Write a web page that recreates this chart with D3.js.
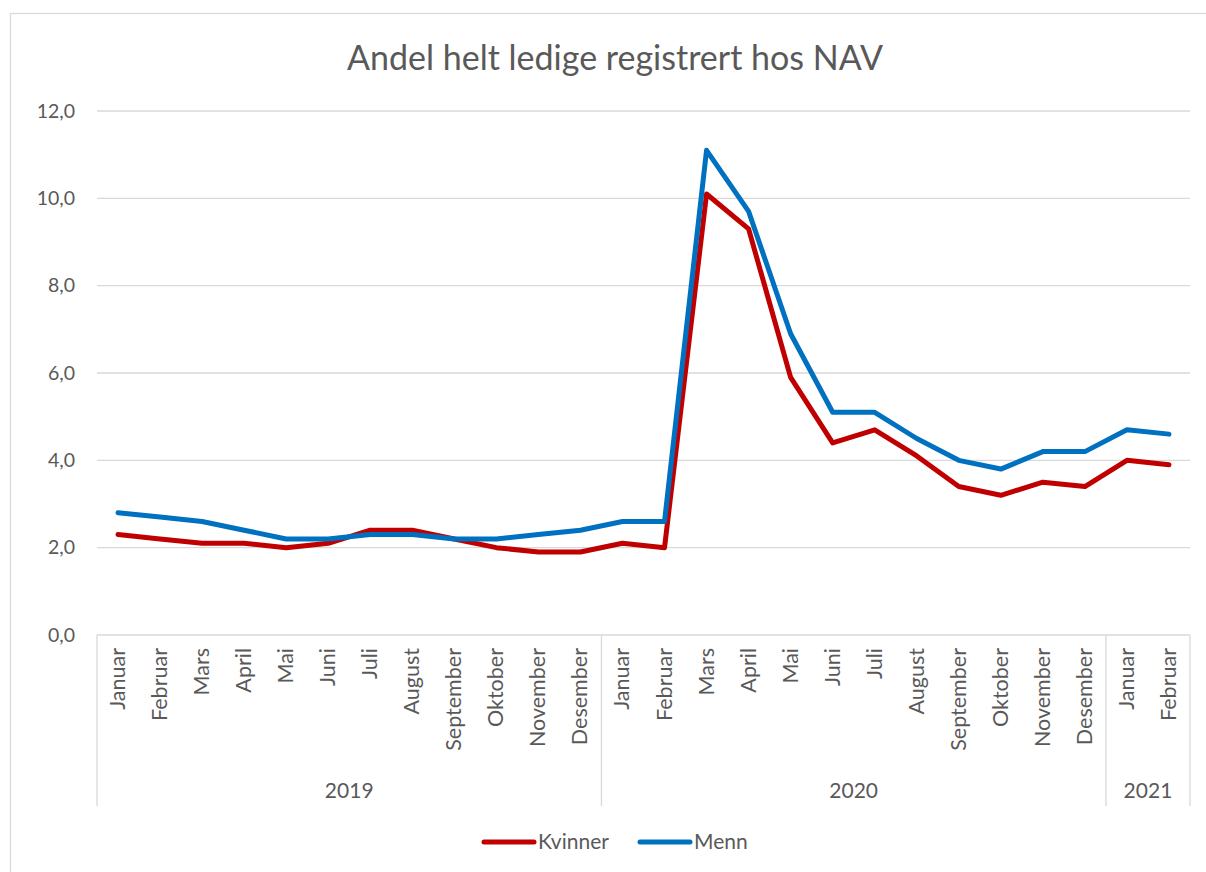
<!DOCTYPE html>
<html lang="no">

<head>
    <meta charset="UTF-8">
    <title>Andel helt ledige registrert hos NAV</title>
    <script src="https://d3js.org/d3.v7.min.js"></script>
    <style>
        body {
            margin: 0;
            background-color: white;
        }

        svg text {
            font-family: Lato, 'Open Sans', sans-serif;
            fill: #595959;
        }

        .grid line {
            stroke: #d9d9d9;
            stroke-width: 1.3px;
        }

        .series {
            fill: none;
            stroke-width: 5px;
            stroke-linejoin: round;
            stroke-linecap: round;
        }
    </style>
</head>

<body>
    <svg id="chart" width="1206" height="872"></svg>

    <script>
        const months = ['Januar', 'Februar', 'Mars', 'April', 'Mai', 'Juni', 'Juli',
            'August', 'September', 'Oktober', 'November', 'Desember'];
        const years = [
            { year: '2019', count: 12 },
            { year: '2020', count: 12 },
            { year: '2021', count: 2 }
        ];
        const kvinner = [2.3, 2.2, 2.1, 2.1, 2.0, 2.1, 2.4, 2.4, 2.2, 2.0, 1.9, 1.9,
            2.1, 2.0, 10.1, 9.3, 5.9, 4.4, 4.7, 4.1, 3.4, 3.2, 3.5, 3.4,
            4.0, 3.9];
        const menn = [2.8, 2.7, 2.6, 2.4, 2.2, 2.2, 2.3, 2.3, 2.2, 2.2, 2.3, 2.4,
            2.6, 2.6, 11.1, 9.7, 6.9, 5.1, 5.1, 4.5, 4.0, 3.8, 4.2, 4.2,
            4.7, 4.6];
        const yTicks = [0, 2, 4, 6, 8, 10, 12];

        // one entry per month along the axis
        const categories = [];
        years.forEach(y => {
            for (let i = 0; i < y.count; i++) {
                categories.push({ key: y.year + '-' + i, month: months[i], year: y.year });
            }
        });

        const series = [
            { name: 'Kvinner', color: '#C00000', values: kvinner },
            { name: 'Menn', color: '#0070C0', values: menn }
        ];

        const width = 1206;
        const height = 872;
        const margin = { top: 111, right: 16, bottom: 237, left: 97 };

        const svg = d3.select('#chart');

        // outer chart border
        svg.append('rect')
            .attr('x', 10.5)
            .attr('y', 13.5)
            .attr('width', width)
            .attr('height', height)
            .attr('fill', 'white')
            .attr('stroke', '#d9d9d9')
            .attr('stroke-width', 1.3);

        const x = d3.scaleBand()
            .domain(categories.map(c => c.key))
            .range([margin.left, width - margin.right]);

        const y = d3.scaleLinear()
            .domain([0, 12])
            .range([height - margin.bottom, margin.top]);

        // gridlines
        svg.append('g')
            .attr('class', 'grid')
            .selectAll('line')
            .data(yTicks.filter(t => t > 0))
            .enter().append('line')
            .attr('x1', margin.left)
            .attr('x2', width - margin.right)
            .attr('y1', d => y(d))
            .attr('y2', d => y(d));

        // y axis labels
        svg.append('g')
            .selectAll('text')
            .data(yTicks)
            .enter().append('text')
            .attr('x', 75)
            .attr('y', d => y(d))
            .attr('dy', '0.35em')
            .attr('text-anchor', 'end')
            .style('font-size', '19.5px')
            .text(d => d3.format('.1f')(d).replace('.', ','));

        // category axis with year grouping
        const axisY = y(0);
        const boxBottom = 806;
        const axisG = svg.append('g').attr('stroke', '#d9d9d9').attr('stroke-width', 1.3);
        axisG.append('line')
            .attr('x1', margin.left).attr('x2', width - margin.right)
            .attr('y1', axisY).attr('y2', axisY);

        let idx = 0;
        const bounds = [x.range()[0]];
        years.forEach(yr => {
            idx += yr.count;
            bounds.push(idx < categories.length ? x(categories[idx].key) : x.range()[1]);
        });
        axisG.selectAll('.sep')
            .data(bounds)
            .enter().append('line')
            .attr('x1', d => d).attr('x2', d => d)
            .attr('y1', axisY).attr('y2', boxBottom);

        svg.append('g')
            .selectAll('text')
            .data(categories)
            .enter().append('text')
            .attr('transform', d => `translate(${x(d.key) + x.bandwidth() / 2 + 7},${axisY + 13}) rotate(-90)`)
            .attr('text-anchor', 'end')
            .style('font-size', '21.5px')
            .text(d => d.month);

        svg.append('g')
            .selectAll('text')
            .data(years)
            .enter().append('text')
            .attr('x', (d, i) => (bounds[i] + bounds[i + 1]) / 2)
            .attr('y', 798)
            .attr('text-anchor', 'middle')
            .style('font-size', '21px')
            .text(d => d.year);

        // lines
        const line = d3.line()
            .x((d, i) => x(categories[i].key) + x.bandwidth() / 2)
            .y(d => y(d));

        svg.append('g')
            .selectAll('path')
            .data(series)
            .enter().append('path')
            .attr('class', 'series')
            .attr('stroke', d => d.color)
            .attr('d', d => line(d.values));

        // title
        svg.append('text')
            .attr('x', 615)
            .attr('y', 70)
            .attr('text-anchor', 'middle')
            .style('font-size', '34px')
            .text('Andel helt ledige registrert hos NAV');

        // legend
        const legend = svg.append('g');
        const legendItems = [
            { s: series[0], x: 484 },
            { s: series[1], x: 640 }
        ];
        legendItems.forEach(item => {
            legend.append('line')
                .attr('x1', item.x).attr('x2', item.x + 50)
                .attr('y1', 842).attr('y2', 842)
                .attr('stroke', item.s.color)
                .attr('stroke-width', 5)
                .attr('stroke-linecap', 'round');
            legend.append('text')
                .attr('x', item.x + 54)
                .attr('y', 842)
                .attr('dy', '0.35em')
                .style('font-size', '21px')
                .text(item.s.name);
        });
    </script>
</body>

</html>
